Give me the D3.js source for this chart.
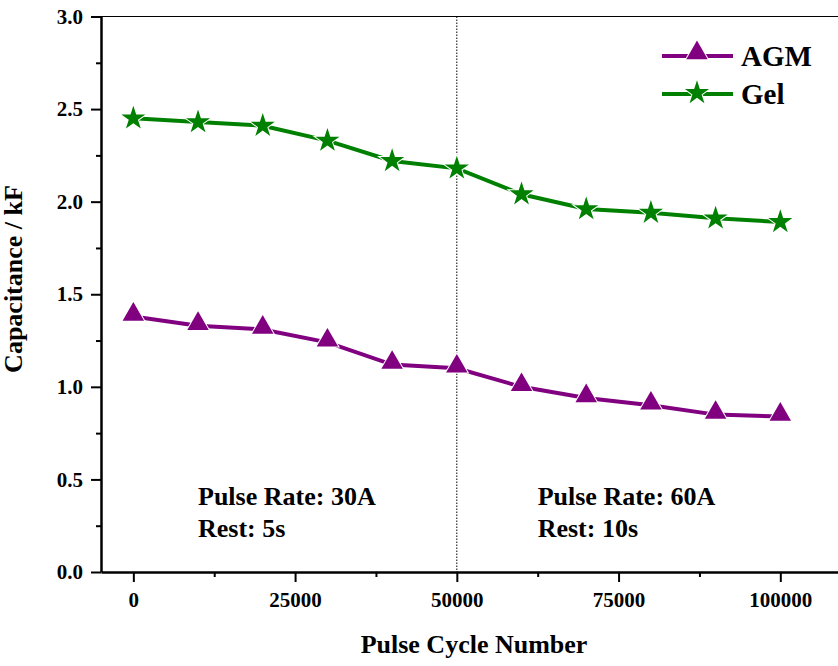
<!DOCTYPE html>
<html>
<head>
<meta charset="utf-8">
<script src="https://cdnjs.cloudflare.com/ajax/libs/d3/7.8.5/d3.min.js"></script>
<style>
  body { margin: 0; background: #fff; }
  text { font-family: "Liberation Serif", "Times New Roman", serif; font-weight: bold; }
</style>
</head>
<body>
<div id="chart"></div>
<script>
// data
var cycles = [0, 10000, 20000, 30000, 40000, 50000, 60000, 70000, 80000, 90000, 100000];
var agm = [1.38, 1.33, 1.31, 1.24, 1.12, 1.10, 1.00, 0.94, 0.90, 0.85, 0.84];
var gel = [2.45, 2.43, 2.41, 2.33, 2.22, 2.18, 2.04, 1.96, 1.94, 1.91, 1.89];
var xTicks = [0, 25000, 50000, 75000, 100000];
var yTicks = [0.0, 0.5, 1.0, 1.5, 2.0, 2.5, 3.0];

var margin = {top: 16.5, right: -7, bottom: 94, left: 101},
    width = 838 - margin.left - margin.right,
    height = 666 - margin.top - margin.bottom;

var svg = d3.select("#chart")
  .append("svg")
    .attr("width", 838)
    .attr("height", 666);

var chartGroup = svg.append("g")
    .attr("transform", "translate(" + margin.left + "," + margin.top + ")");

var x = d3.scaleLinear()
  .domain([-5000, 110000])
  .range([0, width]);

var y = d3.scaleLinear()
  .domain([0, 3])
  .range([height, 0]);

// minor ticks
chartGroup.append("g")
  .attr("transform", "translate(0," + height + ")")
  .call(d3.axisBottom(x).tickValues([12500, 37500, 62500, 87500]).tickSize(5).tickFormat(""))
  .call(g => g.select(".domain").remove())
  .selectAll("line").attr("stroke-width", 2);

chartGroup.append("g")
  .call(d3.axisLeft(y).tickValues([0.25, 0.75, 1.25, 1.75, 2.25, 2.75]).tickSize(5).tickFormat(""))
  .call(g => g.select(".domain").remove())
  .selectAll("line").attr("stroke-width", 2);

// major axes
var xAxis = chartGroup.append("g")
  .attr("transform", "translate(0," + height + ")")
  .call(d3.axisBottom(x).tickValues(xTicks).tickSize(10).tickSizeOuter(0).tickPadding(10).tickFormat(d3.format("d")));
xAxis.select(".domain").attr("stroke-width", 2.5);
xAxis.selectAll("line").attr("stroke-width", 2);
xAxis.selectAll("text").attr("font-size", "21px").attr("fill", "#000");

var yAxis = chartGroup.append("g")
  .call(d3.axisLeft(y).tickValues(yTicks).tickSize(10).tickSizeOuter(0).tickPadding(8).tickFormat(d3.format(".1f")));
yAxis.select(".domain").attr("stroke-width", 2.5);
yAxis.selectAll("line").attr("stroke-width", 2);
yAxis.selectAll("text").attr("font-size", "21px").attr("fill", "#000");

// top border
chartGroup.append("line")
  .attr("x1", 0).attr("x2", width)
  .attr("y1", 0).attr("y2", 0)
  .attr("stroke", "#000").attr("stroke-width", 1.2);

// dotted divider at 50000
chartGroup.append("line")
  .attr("x1", x(50000)).attr("x2", x(50000))
  .attr("y1", 0).attr("y2", height)
  .attr("stroke", "#000").attr("stroke-width", 1)
  .attr("stroke-dasharray", "1.5,1.5");

var line = d3.line()
  .x(function(d) { return x(d[0]); })
  .y(function(d) { return y(d[1]); });

var series = [
  {name: "AGM", values: agm, color: "#800080", symbol: d3.symbolTriangle, size: 200, dy: -2},
  {name: "Gel", values: gel, color: "#008000", symbol: d3.symbolStar, size: 180, dy: 0}
];

series.forEach(function(s) {
  var pts = cycles.map(function(c, i) { return [c, s.values[i]]; });
  chartGroup.append("path")
    .datum(pts)
    .attr("fill", "none")
    .attr("stroke", s.color)
    .attr("stroke-width", 4)
    .attr("d", line);

  chartGroup.selectAll(null)
    .data(pts)
    .enter()
    .append("path")
      .attr("d", d3.symbol().type(s.symbol).size(s.size))
      .attr("transform", function(d) {
        return "translate(" + x(d[0]) + "," + (y(d[1]) + s.dy) + ")";
      })
      .attr("fill", s.color)
      .attr("stroke", "#fff")
      .attr("stroke-width", 2)
      .attr("paint-order", "stroke");
});

// legend
series.forEach(function(s, i) {
  var ly = 56 + i * 38;
  svg.append("line")
    .attr("x1", 662).attr("x2", 733)
    .attr("y1", ly).attr("y2", ly)
    .attr("stroke", s.color).attr("stroke-width", 4);
  svg.append("path")
    .attr("d", d3.symbol().type(s.symbol).size(s.size))
    .attr("transform", "translate(697," + (ly + s.dy - 1) + ")")
    .attr("fill", s.color)
    .attr("stroke", "#fff")
    .attr("stroke-width", 2)
    .attr("paint-order", "stroke");
  svg.append("text")
    .attr("x", 741).attr("y", ly + 10)
    .attr("font-size", "29px")
    .text(s.name);
});

// annotations
var notes = [
  {x: 10000, y: 505, text: "Pulse Rate: 30A"},
  {x: 10000, y: 537, text: "Rest: 5s"},
  {x: 62500, y: 505, text: "Pulse Rate: 60A"},
  {x: 62500, y: 537, text: "Rest: 10s"}
];
chartGroup.selectAll(".note")
  .data(notes)
  .enter()
  .append("text")
    .attr("class", "note")
    .attr("x", function(d) { return x(d.x); })
    .attr("y", function(d) { return d.y - margin.top; })
    .attr("font-size", "26px")
    .text(function(d) { return d.text; });

// axis titles
svg.append("text")
  .attr("x", 474).attr("y", 653)
  .attr("text-anchor", "middle")
  .attr("font-size", "26px")
  .text("Pulse Cycle Number");

svg.append("text")
  .attr("transform", "rotate(-90)")
  .attr("x", -279).attr("y", 22)
  .attr("text-anchor", "middle")
  .attr("font-size", "26px")
  .text("Capacitance / kF");
</script>
</body>
</html>
